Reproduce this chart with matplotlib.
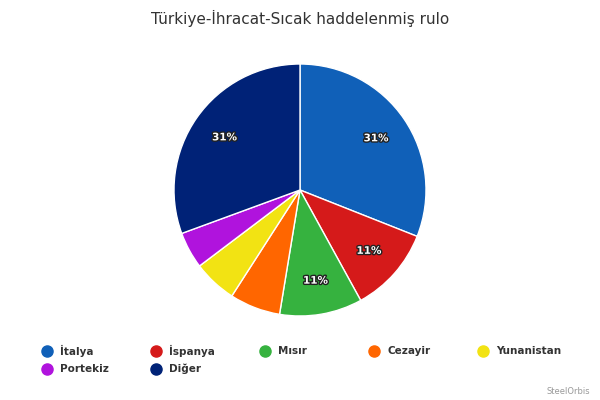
import matplotlib.pyplot as plt
import matplotlib.patheffects as pe
from matplotlib.lines import Line2D

# shares (percent)
countries = ["İtalya", "İspanya", "Mısır", "Cezayir", "Yunanistan", "Portekiz", "Diğer"]
shares = [31.0, 11.0, 10.6, 6.5, 5.6, 4.7, 30.6]
colors = ["#1060B8", "#D51A1A", "#36B23F", "#FF6600", "#F2E313", "#B013DD", "#002277"]

fig = plt.figure(figsize=(6, 4), dpi=100)
ax = fig.add_axes([0.29, 0.21, 0.42, 0.63])


def fmt(p):
    # only the bigger slices carry a label
    return "%d%%" % round(p) if p >= 10 else ""


wedges, texts, autotexts = ax.pie(
    shares, colors=colors, startangle=90, counterclock=False,
    autopct=fmt, pctdistance=0.73,
    wedgeprops=dict(edgecolor="white", linewidth=1))
for t in autotexts:
    t.set_color("white")
    t.set_fontsize(7.5)
    t.set_fontweight("bold")
    t.set_path_effects([pe.withStroke(linewidth=2, foreground="#222222")])
ax.set_xlim(-1, 1)
ax.set_ylim(-1, 1)
ax.set_aspect("equal")

fig.text(0.5, 0.955, "Türkiye-İhracat-Sıcak haddelenmiş rulo",
         ha="center", va="center", fontsize=11, color="#333333")

# legend laid out like the original: 5 per row
for i, (name, c) in enumerate(zip(countries, colors)):
    x = (47 + (i % 5) * 109) / 600
    y = 1 - (351 + (i // 5) * 18) / 400
    fig.add_artist(Line2D([x], [y], marker="o", markersize=8, color=c,
                          linestyle="none", transform=fig.transFigure))
    fig.text(x + 13 / 600, y, name, ha="left", va="center",
             fontsize=7.5, fontweight="bold", color="#333333")

fig.text(590 / 600, 1 - 392 / 400, "SteelOrbis", ha="right", va="center",
         fontsize=6, color="#999999")

fig.savefig("out.png", dpi=100)
